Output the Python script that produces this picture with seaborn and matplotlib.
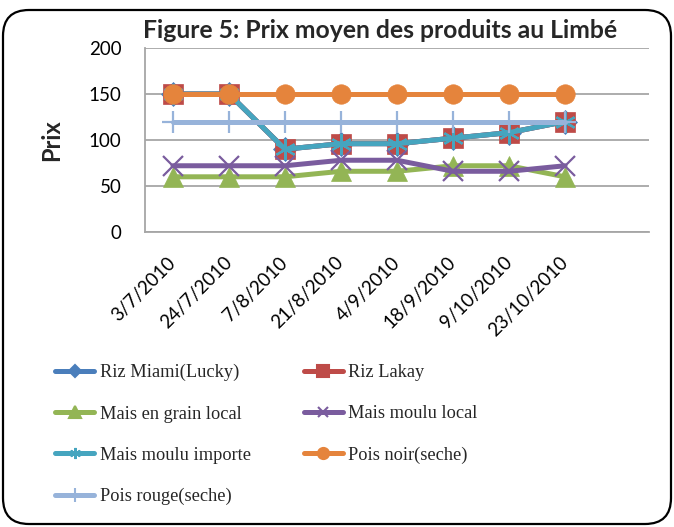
import matplotlib
matplotlib.use("Agg")
import matplotlib.pyplot as plt
import seaborn as sns
import pandas as pd
from matplotlib.lines import Line2D
from matplotlib.patches import FancyBboxPatch
from matplotlib.transforms import IdentityTransform

dates = ["3/7/2010", "24/7/2010", "7/8/2010", "21/8/2010", "4/9/2010",
         "18/9/2010", "9/10/2010", "23/10/2010"]
riz_miami = [150, 150, 90, 96, 96, 102, 108, 120]
riz_lakay = [150, 150, 90, 96, 96, 102, 108, 120]
mais_grain_local = [60, 60, 60, 66, 66, 72, 72, 60]
mais_moulu_local = [72, 72, 72, 78, 78, 66, 66, 72]
mais_moulu_importe = [150, 150, 90, 96, 96, 102, 108, 120]
pois_noir = [150, 150, 150, 150, 150, 150, 150, 150]
pois_rouge = [120, 120, 120, 120, 120, 120, 120, 120]

series_names = ["Riz Miami(Lucky)", "Riz Lakay", "Mais en grain local",
                "Mais moulu local", "Mais moulu importe", "Pois noir(seche)",
                "Pois rouge(seche)"]
series_values = [riz_miami, riz_lakay, mais_grain_local, mais_moulu_local,
                 mais_moulu_importe, pois_noir, pois_rouge]
colors = ["#4A7EBB", "#BE4B48", "#93B555", "#7A5C9E", "#46A5BF", "#E5843C", "#97B3DA"]
markers = ["D", "s", "^", "x", (6, 2, 0), "o", "+"]
msizes = [12, 14, 15, 15, 15, 14, 16]
leg_msizes = [6, 8, 8, 7, 8, 8, 10]

sns.set_theme(style="white")
plt.rcParams["font.family"] = ["Lato", "DejaVu Sans"]

fig = plt.figure(figsize=(6.74, 5.27), dpi=100)
ax = fig.add_axes([145/674, 1-232/527, (649-145)/674, (232-48)/527])

df = pd.DataFrame({"date": dates})
for name, vals, c, m, ms in zip(series_names, series_values, colors, markers, msizes):
    df[name] = vals
    filled = m not in ("x", "+") and not isinstance(m, tuple)
    sns.lineplot(data=df, x="date", y=name, ax=ax, color=c, linewidth=3.6,
                 marker=m, markersize=ms, markeredgecolor=c,
                 markeredgewidth=1.6 if not filled else 0.5,
                 sort=False, legend=False, zorder=3)

ax.set_ylim(0, 200)
ax.set_xlim(-0.5, 8.5)
ax.set_yticks([0, 50, 100, 150, 200])
ax.set_xticks(range(len(dates)))
ax.set_xticklabels(dates)
ax.yaxis.grid(True, color="#A6A6A6", linewidth=1.3)
ax.xaxis.grid(False)
for s in ["top", "right"]:
    ax.spines[s].set_visible(False)
for s in ["left", "bottom"]:
    ax.spines[s].set_color("#A6A6A6")
    ax.spines[s].set_linewidth(1.3)
ax.tick_params(axis="both", length=0, labelsize=13.5, colors="black")
ax.tick_params(axis="y", pad=17)
ax.tick_params(axis="x", pad=20)
for lab in ax.get_xticklabels():
    lab.set_rotation(45)
    lab.set_ha("right")
    lab.set_va("center")
    lab.set_rotation_mode("anchor")
ax.set_xlabel("")
ax.set_ylabel("Prix", fontsize=17, fontweight="bold", labelpad=18)

fig.text(380/674, 1-30/527, "Figure 5: Prix moyen des produits au Limbé",
         ha="center", va="center", fontsize=17.8, fontweight="bold")

handles = []
for name, c, m, ms in zip(series_names, colors, markers, leg_msizes):
    handles.append(Line2D([0], [0], color=c, linewidth=3.6, marker=m,
                          markersize=ms, markeredgecolor=c, markeredgewidth=1.5,
                          label=name))
order = [0, 2, 4, 6, 1, 3, 5]
leg = fig.legend([handles[i] for i in order], [series_names[i] for i in order],
                 ncol=2, loc="upper left", bbox_to_anchor=(55/674, 1-364/527),
                 frameon=False, prop={"family": "Liberation Serif", "size": 13.2},
                 handlelength=2.15, handletextpad=0.28, labelspacing=1.32,
                 columnspacing=2.9, borderaxespad=0, borderpad=0)

border = FancyBboxPatch((3, 3), 668, 514, boxstyle="round,pad=0,rounding_size=26",
                        transform=IdentityTransform(), facecolor="none",
                        edgecolor="black", linewidth=1.6)
fig.add_artist(border)

fig.savefig("out.png", dpi=100)
